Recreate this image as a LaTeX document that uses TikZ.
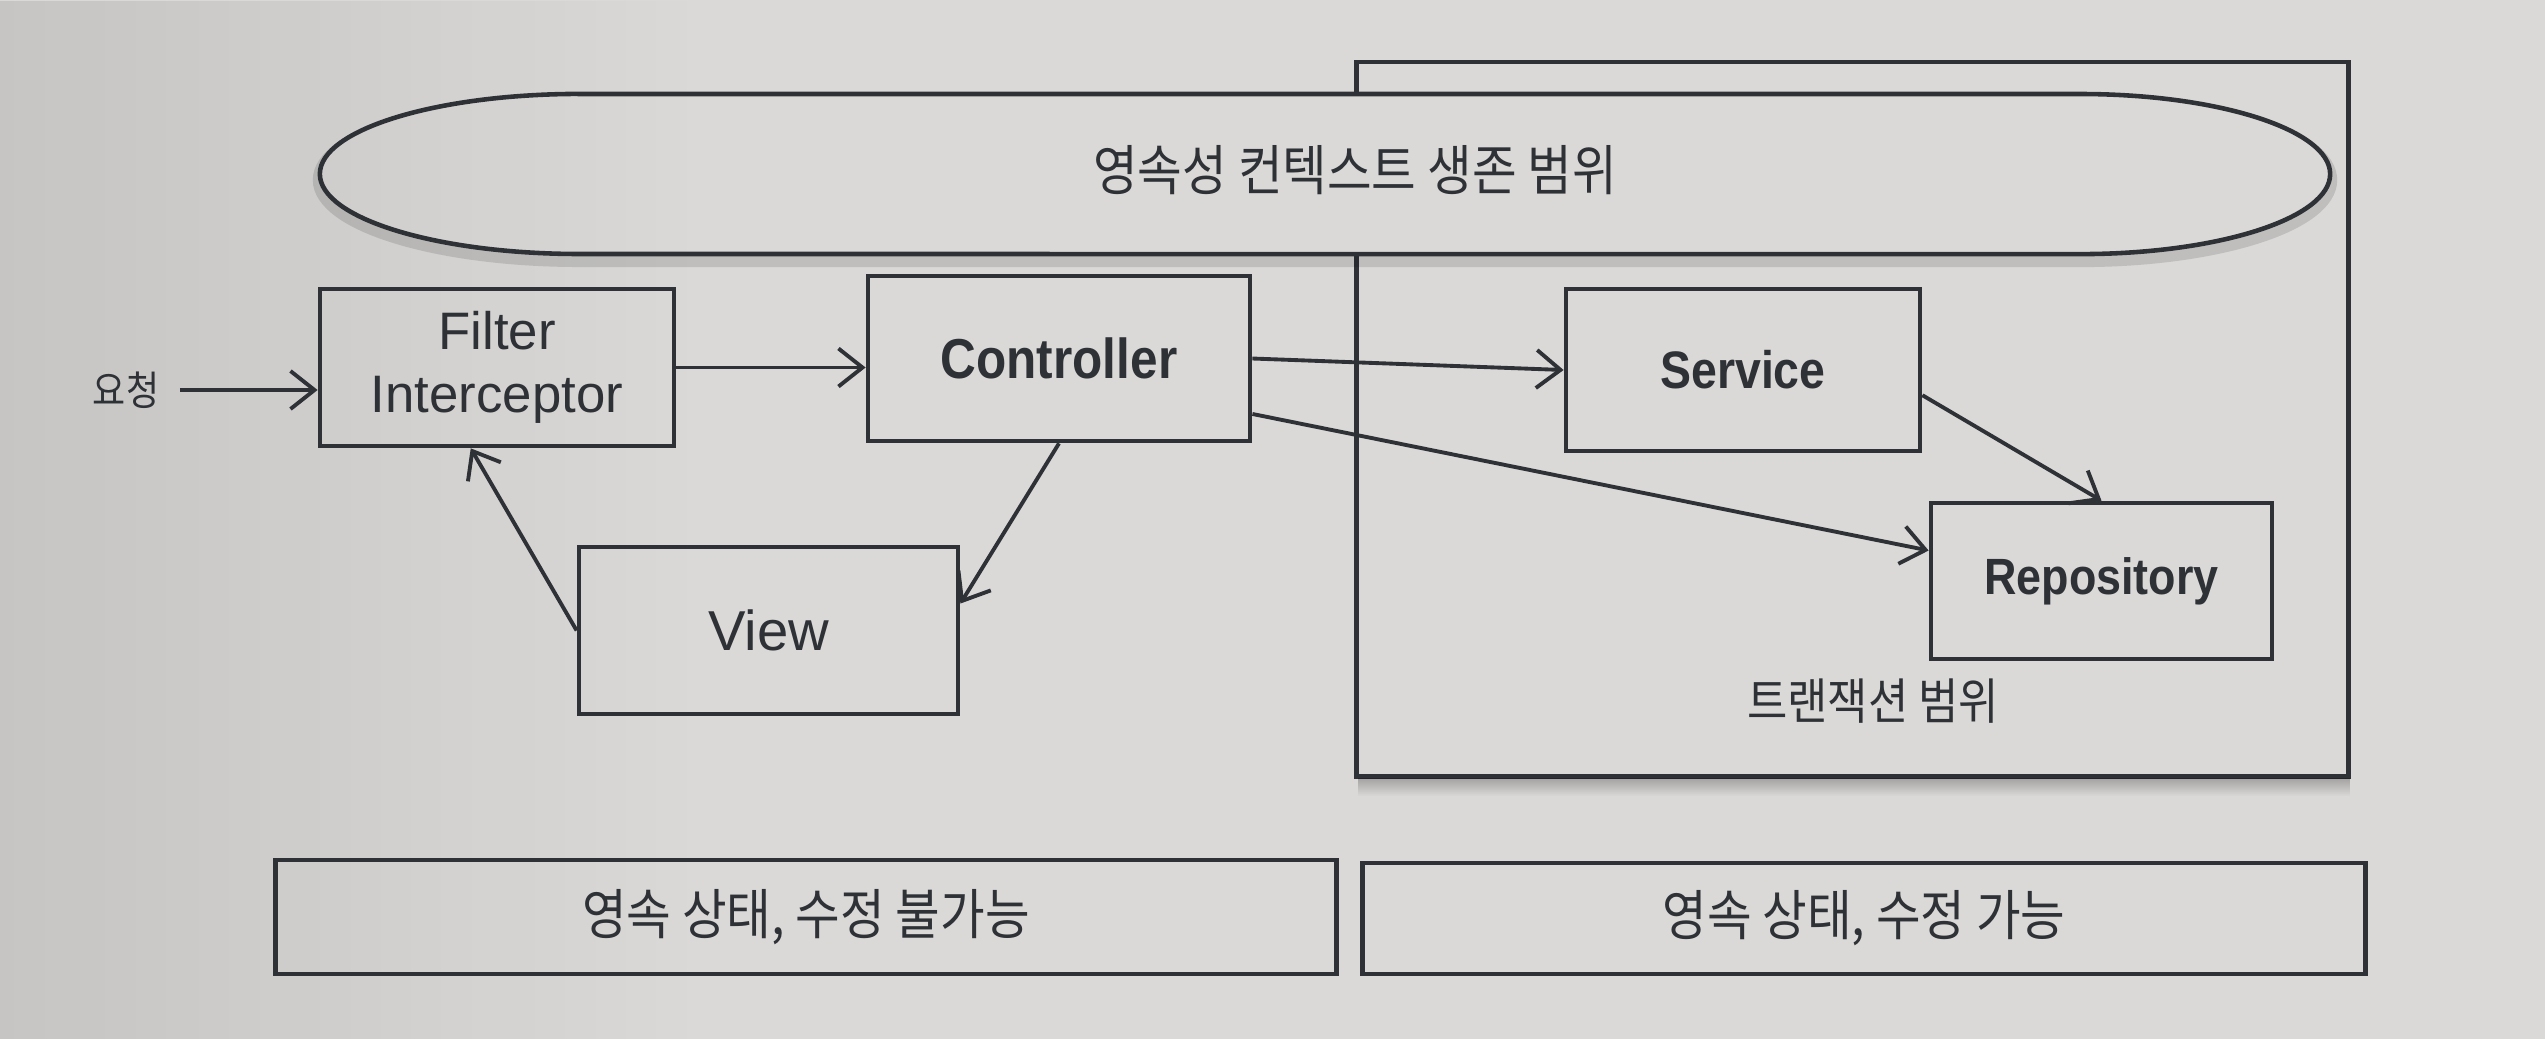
\documentclass[tikz,border=0pt]{standalone}
\usepackage{fontspec}
\setmainfont{Liberation Sans}
\newfontfamily\kr[FakeStretch=0.89]{Noto Sans CJK KR}
\newfontfamily\lbold[FakeStretch=0.88]{Liberation Sans Bold}
\usetikzlibrary{arrows.meta,fadings}
\definecolor{ink}{HTML}{2E3236}
\definecolor{paper}{HTML}{DAD9D7}
\tikzset{
  box/.style={draw=ink, line width=1.3pt, inner sep=0pt, align=center, text=ink},
  arr/.style={draw=ink, line width=1.1pt, -{Straight Barb[length=2.4mm,width=3.8mm]}},
  stadiumpath/.style={insert path={(580,-94) -- (2080,-94)
      arc[start angle=90,end angle=-90,x radius=2.5cm,y radius=0.8cm]
      -- (580,-254)
      arc[start angle=270,end angle=90,x radius=2.6cm,y radius=0.8cm] -- cycle}},
  krtext/.style={text=ink, inner sep=0pt},
}
\begin{document}
\begin{tikzpicture}[x=0.01cm,y=0.01cm]
\useasboundingbox (0,0) rectangle (2545,-1039);
\fill[paper] (0,0) rectangle (2545,-1039);
\fill[black, opacity=0.09, path fading=east] (0,0) rectangle (700,-1039);

% transaction scope
\node[box, minimum width=9.91cm, minimum height=7.14cm] (trx) at (1852.5,-419) {};
\fill[black, opacity=0.25, path fading=south] (1358,-778) rectangle (2350,-796);
\node[krtext, font=\kr\fontsize{14}{16}\selectfont] (trxlabel) at (1873,-701) {트랜잭션 범위};

% persistence context
\draw[black, opacity=0.12, line width=4pt, shift={(0,-6)}, stadiumpath];
\begin{scope}
  \clip[stadiumpath];
  \fill[paper] (0,0) rectangle (2545,-1039);
  \fill[black, opacity=0.09, path fading=east] (0,0) rectangle (700,-1039);
\end{scope}
\draw[draw=ink, line width=1.3pt, stadiumpath];
\node[krtext, font=\kr\fontsize{15.5}{18}\selectfont] (ctx) at (1355,-170) {영속성 컨텍스트 생존 범위};

% components
\node[krtext, font=\kr\fontsize{11.5}{14}\selectfont] (req) at (126,-390) {요청};
\node[box, minimum width=3.54cm, minimum height=1.57cm, font=\fontsize{15}{18}\selectfont] (filter) at (497,-367.5) {Filter\\Interceptor};
\node[box, minimum width=3.82cm, minimum height=1.65cm, font=\lbold\fontsize{16}{19}\selectfont] (ctrl) at (1059,-358.5) {Controller};
\node[box, minimum width=3.54cm, minimum height=1.62cm, font=\lbold\fontsize{15}{18}\selectfont] (service) at (1743,-370) {Service};
\node[box, minimum width=3.41cm, minimum height=1.56cm, font=\lbold\fontsize{14.5}{17}\selectfont] (repo) at (2101.5,-581) {Repository};
\node[box, minimum width=3.79cm, minimum height=1.67cm, font=\fontsize{16}{19}\selectfont] (view) at (768.5,-630.5) {View};

% bottom bars
\node[box, minimum width=10.60cm, minimum height=1.14cm, font=\kr\fontsize{15.5}{18}\selectfont] (ro) at (806,-917) {영속 상태, 수정 불가능};
\node[box, minimum width=10.02cm, minimum height=1.11cm, font=\kr\fontsize{15.5}{18}\selectfont] (rw) at (1864,-918.5) {영속 상태, 수정 가능};

% connectors
\draw[arr] ([xshift=2mm]req.east) -- (req.east -| filter.west);
\draw[arr] (filter.east) -- (filter.east -| ctrl.west);
\draw[arr] (ctrl.east) -- (service.west);
\draw[arr] (ctrl.-16) -- (repo.170);
\draw[arr] (service.-8) -- (repo.north);
\draw[arr] (ctrl.south) -- (view.8);
\draw[arr] (view.west) -- (filter.-108);
\end{tikzpicture}
\end{document}
